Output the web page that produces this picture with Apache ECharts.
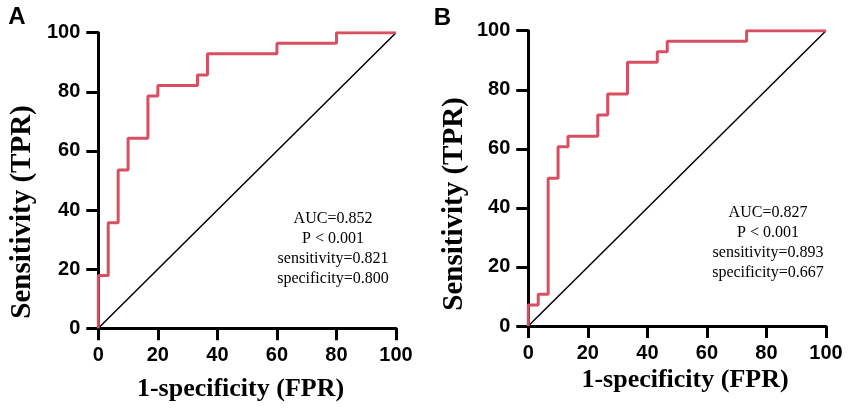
<!DOCTYPE html>
<html>
<head>
<meta charset="utf-8">
<script src="https://cdn.jsdelivr.net/npm/echarts@6/dist/echarts.min.js"></script>
<style>
  html, body { margin: 0; padding: 0; background: #fff; }
  #chart { width: 851px; height: 412px; }
</style>
</head>
<body>
<div id="chart"></div>
<script>
// ROC curve vertices, panel A (percent)
const fprA = [0, 0, 3.33, 3.33, 6.67, 6.67, 10, 10, 16.67, 16.67, 20, 20, 33.33, 33.33, 36.67, 36.67, 60, 60, 80, 80, 100];
const tprA = [0, 17.86, 17.86, 35.71, 35.71, 53.57, 53.57, 64.29, 64.29, 78.57, 78.57, 82.14, 82.14, 85.71, 85.71, 92.86, 92.86, 96.43, 96.43, 100, 100];

// ROC curve vertices, panel B (percent)
const fprB = [0, 0, 3.33, 3.33, 6.67, 6.67, 10, 10, 13.33, 13.33, 23.33, 23.33, 26.67, 26.67, 33.33, 33.33, 43.33, 43.33, 46.67, 46.67, 73.33, 73.33, 100];
const tprB = [0, 7.14, 7.14, 10.71, 10.71, 50, 50, 60.71, 60.71, 64.29, 64.29, 71.43, 71.43, 78.57, 78.57, 89.29, 89.29, 92.86, 92.86, 96.43, 96.43, 100, 100];

// reference line
const diagX = [0, 100];
const diagY = [0, 100];

const statsA = ['AUC=0.852', 'P < 0.001', 'sensitivity=0.821', 'specificity=0.800'];
const statsB = ['AUC=0.827', 'P < 0.001', 'sensitivity=0.893', 'specificity=0.667'];

const xTitle = '1-specificity (FPR)';
const yTitle = 'Sensitivity (TPR)';

const zip = (xs, ys) => xs.map((x, i) => [x, ys[i]]);

const sans = 'Liberation Sans, Arial, sans-serif';
const serif = 'Liberation Serif, Times New Roman, serif';

function makeAxis(idx, isX) {
  return {
    type: 'value',
    gridIndex: idx,
    min: 0,
    max: 100,
    interval: 20,
    splitLine: { show: false },
    axisLine: { show: true, onZero: false, lineStyle: { color: '#000', width: 3 } },
    axisTick: { show: true, length: 12, lineStyle: { color: '#000', width: 3 } },
    axisLabel: {
      color: '#000',
      fontFamily: sans,
      fontWeight: 'bold',
      fontSize: 20,
      margin: isX ? 17 : 18
    }
  };
}

function statText(lines, cx, y0) {
  return lines.map((t, i) => ({
    type: 'text',
    x: cx,
    y: y0 + i * 20,
    style: {
      text: t,
      fill: '#000',
      font: '16px ' + serif,
      textAlign: 'center',
      textVerticalAlign: 'middle'
    }
  }));
}

function titleText(t, x, y, rot, size) {
  return {
    type: 'text',
    x: x,
    y: y,
    rotation: rot,
    style: {
      text: t,
      fill: '#000',
      font: 'bold ' + size + 'px ' + serif,
      textAlign: 'center',
      textVerticalAlign: 'middle'
    }
  };
}

const rocColor = '#d94f62';

const option = {
  animation: false,
  backgroundColor: '#fff',
  grid: [
    { left: 98.3, top: 32.7, width: 297.7, height: 295.6 },
    { left: 528.3, top: 30.7, width: 297.7, height: 295.3 }
  ],
  xAxis: [makeAxis(0, true), makeAxis(1, true)],
  yAxis: [makeAxis(0, false), makeAxis(1, false)],
  series: [
    {
      type: 'line', xAxisIndex: 0, yAxisIndex: 0,
      data: zip(diagX, diagY), symbol: 'none',
      lineStyle: { color: '#000', width: 1.5 }
    },
    {
      type: 'line', xAxisIndex: 0, yAxisIndex: 0,
      data: zip(fprA, tprA), symbol: 'none',
      lineStyle: { color: rocColor, width: 3 }
    },
    {
      type: 'line', xAxisIndex: 1, yAxisIndex: 1,
      data: zip(diagX, diagY), symbol: 'none',
      lineStyle: { color: '#000', width: 1.5 }
    },
    {
      type: 'line', xAxisIndex: 1, yAxisIndex: 1,
      data: zip(fprB, tprB), symbol: 'none',
      lineStyle: { color: rocColor, width: 3 }
    }
  ],
  graphic: [
    // panel letters
    { type: 'text', x: 17, y: 17, style: { text: 'A', fill: '#000', font: 'bold 24px ' + sans, textAlign: 'center', textVerticalAlign: 'middle' } },
    { type: 'text', x: 442.5, y: 18.5, style: { text: 'B', fill: '#000', font: 'bold 24px ' + sans, textAlign: 'center', textVerticalAlign: 'middle' } },
    // axis titles
    titleText(xTitle, 240.5, 389, 0, 26),
    titleText(xTitle, 685, 380, 0, 26),
    titleText(yTitle, 23, 212, Math.PI / 2, 29),
    titleText(yTitle, 455, 204, Math.PI / 2, 29)
  ].concat(statText(statsA, 333, 218.3), statText(statsB, 768, 212.7))
};

const chart = echarts.init(document.getElementById('chart'));
chart.setOption(option);
</script>
</body>
</html>
